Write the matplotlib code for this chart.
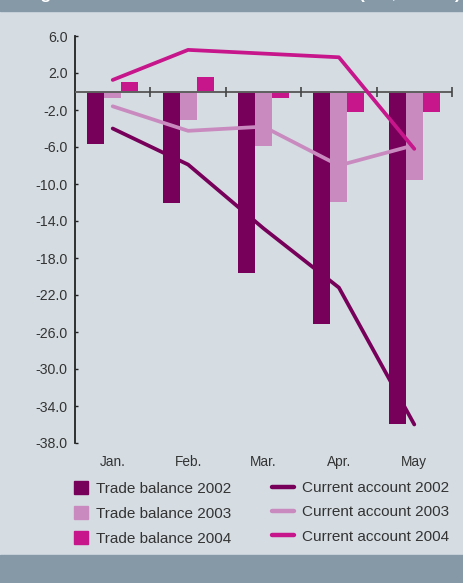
import numpy as np
import matplotlib.pyplot as plt
from matplotlib.patches import Patch, Rectangle
from matplotlib.lines import Line2D

plt.rcParams.update({
    'font.family': ['Liberation Sans', 'DejaVu Sans'],
    'text.color': '#333333',
    'xtick.color': '#333333',
    'ytick.color': '#222222',
    'xtick.labelcolor': '#333333',
    'ytick.labelcolor': '#333333',
})

months = ['Jan.', 'Feb.', 'Mar.', 'Apr.', 'May']

# trade balance by year (bars)
trade_2002 = [-5.7, -12.1, -19.6, -25.1, -35.9]
trade_2003 = [-0.75, -3.1, -5.9, -11.9, -9.6]
trade_2004 = [1.05, 1.6, -0.75, -2.2, -2.2]

# current account by year (lines)
current_2002 = [-4.0, -7.9, -14.8, -21.2, -36.0]
current_2003 = [-1.6, -4.25, -3.8, -8.0, -5.8]
current_2004 = [1.25, 4.5, 4.1, 3.7, -6.2]

yticks = np.arange(-38, 7, 4)

c02 = '#77005a'
c03 = '#c98bbf'
c04 = '#c7168c'
bg = '#d5dde3'
band = '#8599a6'

fig = plt.figure(figsize=(4.64, 5.83), dpi=100, facecolor=bg)

# header / footer bands
fig.patches.append(Rectangle((0, 1 - 11 / 583), 1, 11 / 583, transform=fig.transFigure,
                             color=band, zorder=0))
fig.patches.append(Rectangle((0, 0), 1, 28 / 583, transform=fig.transFigure,
                             color=band, zorder=0))
fig.text(25 / 464, 1 + 1 / 583, 'Figure 2: External balances', color='white',
         fontsize=12.5, fontweight='bold', va='baseline', ha='left')
fig.text(461 / 464, 1 + 1 / 583, '(US$ billion)', color='white',
         fontsize=12.5, fontweight='bold', va='baseline', ha='right')

ax = fig.add_axes([75 / 464, (583 - 443) / 583, (452 - 75) / 464, (443 - 36) / 583])
ax.set_facecolor('none')

x = np.arange(len(months))
w = 0.225
ax.bar(x - w, trade_2002, width=w, color=c02, zorder=2)
ax.bar(x, trade_2003, width=w, color=c03, zorder=2)
ax.bar(x + w, trade_2004, width=w, color=c04, zorder=2)

ax.axhline(0, color='#5f5f5f', lw=1.4, zorder=3)
bounds = x + 0.5
ax.plot(bounds, np.zeros_like(bounds), ls='', marker='|', ms=7, mew=1.2,
        color='#444444', zorder=3)

lkw = dict(lw=2.7, solid_capstyle='round', solid_joinstyle='round', zorder=4)
ax.plot(x, current_2002, color=c02, **lkw)
ax.plot(x, current_2003, color=c03, **lkw)
ax.plot(x, current_2004, color=c04, **lkw)

ax.set_xlim(-0.5, 4.5)
ax.set_ylim(-38, 6)
ax.set_yticks(yticks, [f'{v:.1f}' for v in yticks])
ax.set_xticks(x, months)
ax.tick_params(axis='y', direction='in', length=2.5, width=1, pad=5.5, labelsize=10.2)
ax.tick_params(axis='x', length=0, pad=8.5, labelsize=9.8)
for s in ['top', 'right', 'bottom']:
    ax.spines[s].set_visible(False)
ax.spines['left'].set_linewidth(1.3)
ax.spines['left'].set_color('#222222')

bar_handles = [Patch(color=c) for c in (c02, c03, c04)]
bar_labels = ['Trade balance 2002', 'Trade balance 2003', 'Trade balance 2004']
line_handles = [Line2D([], [], color=c, lw=3.2, solid_capstyle='round') for c in (c02, c03, c04)]
line_labels = ['Current account 2002', 'Current account 2003', 'Current account 2004']

leg_kw = dict(loc='upper left', frameon=False, fontsize=11, borderpad=0,
              borderaxespad=0, handletextpad=0.52, labelspacing=0.68)
fig.legend(bar_handles, bar_labels, bbox_to_anchor=(74 / 464, 1 - 481 / 583),
           handlelength=0.92, handleheight=0.92, **leg_kw)
fig.legend(line_handles, line_labels, bbox_to_anchor=(272 / 464, 1 - 481 / 583),
           handlelength=1.45, **leg_kw)

fig.savefig('out.png', dpi=100, facecolor=bg)
